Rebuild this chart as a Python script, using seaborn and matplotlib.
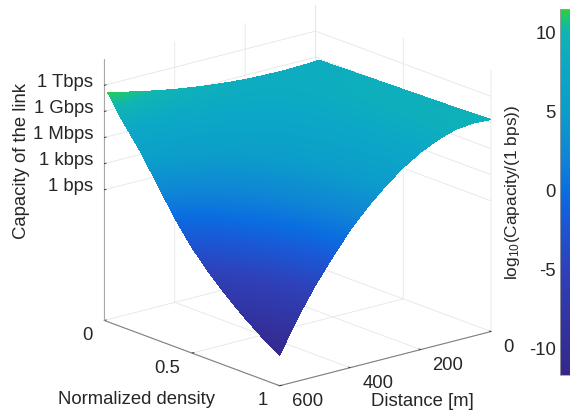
import numpy as np
import seaborn as sns
import matplotlib
matplotlib.use('Agg')
import matplotlib.pyplot as plt
from matplotlib.cm import ScalarMappable
from matplotlib.colors import Normalize, LinearSegmentedColormap
from mpl_toolkits.mplot3d import proj3d

# ---- data ----
distance_m = [0, 50, 100, 150, 200, 250, 300, 350, 400, 450, 500, 550, 600]
density = [0.02, 0.1, 0.2, 0.3, 0.4, 0.5, 0.6, 0.7, 0.8, 0.9, 1.0]
log_capacity = [
    [8.80, 8.70, 8.65, 8.68, 8.75, 8.90, 9.10, 9.35, 9.65, 10.00, 10.40, 10.85, 11.30],
    [8.85, 8.77, 8.71, 8.66, 8.62, 8.62, 8.62, 8.64, 8.67, 8.70, 8.75, 8.80, 8.80],
    [8.90, 8.85, 8.76, 8.64, 8.48, 8.31, 8.10, 7.87, 7.62, 7.30, 6.97, 6.59, 6.10],
    [8.95, 8.93, 8.82, 8.60, 8.30, 7.95, 7.49, 6.98, 6.40, 5.68, 4.92, 4.05, 3.00],
    [9.00, 9.01, 8.88, 8.57, 8.12, 7.57, 6.87, 6.07, 5.14, 4.01, 2.81, 1.43, -0.20],
    [9.05, 9.07, 8.93, 8.54, 7.98, 7.26, 6.35, 5.30, 4.08, 2.61, 1.03, -0.78, -2.90],
    [9.10, 9.15, 8.99, 8.53, 7.87, 7.02, 5.93, 4.68, 3.23, 1.47, -0.42, -2.58, -5.10],
    [9.15, 9.22, 9.04, 8.53, 7.78, 6.81, 5.58, 4.15, 2.49, 0.49, -1.67, -4.14, -7.00],
    [9.20, 9.28, 9.09, 8.53, 7.71, 6.64, 5.26, 3.68, 1.84, -0.39, -2.79, -5.52, -8.70],
    [9.28, 9.37, 9.18, 8.56, 7.67, 6.51, 5.01, 3.29, 1.28, -1.15, -3.76, -6.74, -10.20],
    [9.35, 9.45, 9.25, 8.60, 7.65, 6.40, 4.80, 2.95, 0.80, -1.80, -4.60, -7.80, -11.50],
]
distance_ticks = [0, 200, 400, 600]
distance_ticklabels = ['0', '200', '400', '600']
density_ticks = [0, 0.5, 1]
density_ticklabels = ['0', '0.5', '1']
capacity_ticks = [0, 3, 6, 9, 12]
capacity_ticklabels = ['1 bps', '1 kbps', '1 Mbps', '1 Gbps', '1 Tbps']
colorbar_ticks = [-10, -5, 0, 5, 10]
colorbar_ticklabels = ['-10', '-5', '0', '5', '10']
cmap_values = [-11.65, -5, -2, 0, 2, 5, 8, 10, 10.7, 11.5]
cmap_colors = ['#35278c', '#2f40b8', '#1a58d6', '#0a6ee0', '#0f84d6', '#0c9dca',
               '#0ca8c6', '#0fb4b4', '#18c088', '#2ecf3c']

sns.set_theme(style='white')
plt.rcParams.update({
    'font.family': ['Liberation Sans', 'DejaVu Sans'],
    'mathtext.default': 'regular',
    'grid.color': '#e6e6e6',
    'grid.linewidth': 0.6,
    'text.color': '#262626',
})
INK = '#262626'
FS = 13.3

vmin, vmax = cmap_values[0], cmap_values[-1]
cmap = LinearSegmentedColormap.from_list(
    'capacity', [((v - vmin) / (vmax - vmin), c) for v, c in zip(cmap_values, cmap_colors)], N=512)
norm = Normalize(vmin, vmax)

# fine mesh for the equivalent of "shading interp" between the read grid nodes
D = np.asarray(distance_m, float)
R = np.asarray(density, float)
Zg = np.asarray(log_capacity, float)
Df = np.linspace(D[0], D[-1], 241)
Rf = np.linspace(R[0], R[-1], 161)
Ztmp = np.array([np.interp(Df, D, row) for row in Zg])
Zf = np.array([np.interp(Rf, R, col) for col in Ztmp.T]).T
XX, YY = np.meshgrid(Df, Rf)

fig = plt.figure(figsize=(5.7, 4.18), dpi=100, facecolor='white')
W, H = 570, 418
side = 418
cx, cy = 292, 201
ax = fig.add_axes([(cx - side / 2) / W, (H - cy - side / 2) / H, side / W, side / H],
                  projection='3d', computed_zorder=False)
ax.patch.set_alpha(0)
ax.set_proj_type('ortho')
ax.view_init(elev=18, azim=50.3)
ax.set_box_aspect((1, 1, 1), zoom=1.105)

ax.set_xlim(0, 600, view_margin=0)
ax.set_ylim(0, 1, view_margin=0)
ax.set_zlim(-15, 15, view_margin=0)

ax.plot_surface(XX, YY, Zf, rstride=1, cstride=1, facecolors=cmap(norm(Zf)),
                linewidth=0, antialiased=False, shade=False, zorder=5)

ax.set_xticks(distance_ticks)
ax.set_yticks(density_ticks)
ax.set_zticks(capacity_ticks)
ax.set_xticklabels([''] * len(distance_ticks))
ax.set_yticklabels([''] * len(density_ticks))
ax.set_zticklabels([''] * len(capacity_ticks))
ax.zaxis.set_ticks_position('lower')

for a, col in ((ax.xaxis, '#808080'), (ax.yaxis, '#808080'), (ax.zaxis, '#a8a8a8')):
    a.pane.fill = False
    a.pane.set_edgecolor('none')
    a.line.set_color(col)
    a.line.set_linewidth(0.8)
    a._axinfo['tick']['inward_factor'] = 0.0
    a._axinfo['tick']['outward_factor'] = 0.12
    a._axinfo['tick']['color'] = '#808080'
    a._axinfo['tick']['linewidth'] = {True: 0.6, False: 0.6}


def tick_text(x, y, z, text, dx, dy, ha):
    """Tick label anchored to its 3D axis position; dy > 0 moves it down on screen."""
    px, py, _ = proj3d.proj_transform(x, y, z, ax.get_proj())
    ax.annotate(text, xy=(px, py), xycoords='data', xytext=(dx, -dy), textcoords='offset pixels',
                ha=ha, va='center', fontsize=FS, color=INK, annotation_clip=False)


for z, t in zip(capacity_ticks, capacity_ticklabels):
    tick_text(600, 0, z, t, -11, -3, 'right')
for r, t in zip(density_ticks, density_ticklabels):
    tick_text(600, r, -15, t, -12, 15, 'right')
for d, t in zip(distance_ticks, distance_ticklabels):
    tick_text(d, 1, -15, t, 12, 16, 'left')

fig.text(136 / W, 1 - 399 / H, 'Normalized density', fontsize=FS, ha='center', va='center', color=INK)
fig.text(422 / W, 1 - 402 / H, 'Distance [m]', fontsize=FS, ha='center', va='center', color=INK)
fig.text(22 / W, 1 - 161 / H, 'Capacity of the link', fontsize=FS, rotation=90,
         ha='center', va='center', color=INK)
fig.text(513 / W, 1 - 192 / H, 'log$_{10}$(Capacity/(1 bps))', fontsize=12.4, rotation=90,
         ha='center', va='center', color=INK)

cax = fig.add_axes([560 / W, (H - 375) / H, 10 / W, 366 / H])
cb = fig.colorbar(ScalarMappable(norm=norm, cmap=cmap), cax=cax)
cb.set_ticks(colorbar_ticks, labels=colorbar_ticklabels)
cax.yaxis.set_ticks_position('left')
cax.tick_params(axis='y', direction='in', length=3, width=0.6, color='#404040',
                labelsize=FS, labelcolor=INK, pad=3)
cb.outline.set_edgecolor('#a0a0a0')
cb.outline.set_linewidth(0.6)

fig.savefig('out.png', dpi=100)
